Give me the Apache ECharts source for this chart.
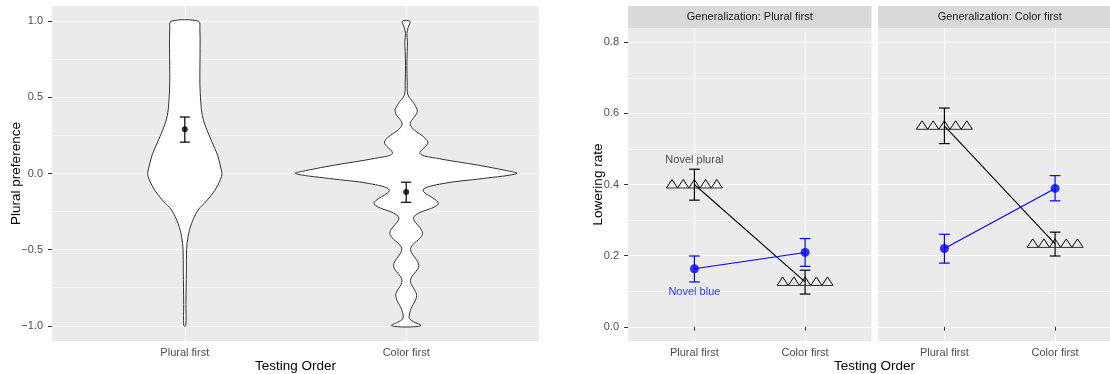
<!DOCTYPE html>
<html>
<head>
<meta charset="utf-8">
<script src="https://cdn.jsdelivr.net/npm/echarts@6/dist/echarts.min.js"></script>
<style>
html,body{margin:0;padding:0;background:#fff}
#main{width:1110px;height:374px}
</style>
</head>
<body>
<div id="main"></div>
<script>
var testingOrder = ['Plural first', 'Color first'];

// left panel, violin outlines: y value and half width (category units)
var pluralViolinY    = [1.0, 0.95, 0.82, 0.60, 0.47, 0.38, 0.30, 0.21, 0.12, 0.03, 0.0, -0.04, -0.11, -0.18, -0.24, -0.33, -0.42, -0.50, -0.64, -0.86, -1.0];
var pluralViolinHalf = [0.062, 0.068, 0.069, 0.068, 0.072, 0.079, 0.096, 0.122, 0.148, 0.164, 0.168, 0.161, 0.136, 0.098, 0.060, 0.030, 0.014, 0.008, 0.007, 0.005, 0.0045];
var colorViolinY     = [1.0, 0.955, 0.92, 0.867, 0.80, 0.71, 0.60, 0.516, 0.46, 0.406, 0.318, 0.208, 0.132, 0.099, 0.055, 0.022, 0.0, -0.033, -0.066, -0.11, -0.198, -0.286, -0.395, -0.494, -0.604, -0.703, -0.80, -0.90, -0.955, -1.0];
var colorViolinHalf  = [0.017, 0.008, 0.003, 0.006, 0.0045, 0.003, 0.0045, 0.008, 0.035, 0.050, 0.019, 0.098, 0.062, 0.143, 0.324, 0.443, 0.500, 0.347, 0.166, 0.076, 0.145, 0.034, 0.074, 0.020, 0.057, 0.019, 0.047, 0.019, 0.016, 0.066];

// left panel, mean and error bar
var prefMean = [0.29, -0.121];
var prefLow  = [0.206, -0.189];
var prefHigh = [0.371, -0.057];

// right panels (one row per facet)
var facetNames = ['Generalization: Plural first', 'Generalization: Color first'];
var pluralRate = [[0.400, 0.126], [0.565, 0.233]];
var pluralLow  = [[0.356, 0.092], [0.515, 0.199]];
var pluralHigh = [[0.443, 0.159], [0.615, 0.266]];
var blueRate   = [[0.163, 0.209], [0.220, 0.389]];
var blueLow    = [[0.126, 0.170], [0.179, 0.354]];
var blueHigh   = [[0.199, 0.248], [0.260, 0.425]];
var noteText = ['Novel plural', 'Novel blue'];
var noteY    = [0.47, 0.098];

var prefMajor = [-1, -0.5, 0, 0.5, 1];
var prefMinor = [-0.75, -0.25, 0.25, 0.75];
var rateMajor = [0, 0.2, 0.4, 0.6, 0.8];
var rateMinor = [0.1, 0.3, 0.5, 0.7];

var font = 'Liberation Sans, Arial, sans-serif';

function numLabel(v) {
	return v.toFixed(1).replace('-', '\u2212');
}

function xAxisFor(g) {
	return {
		type: 'value', gridIndex: g, min: 0.4, max: 2.6,
		axisLine: {show: false},
		axisTick: {customValues: [1, 2], length: 4, lineStyle: {color: '#333', width: 1}},
		axisLabel: {customValues: [1, 2], margin: 6, color: '#4D4D4D', fontSize: 11, fontFamily: font,
			formatter: function (v) { return testingOrder[Math.round(v) - 1]; }},
		splitLine: {show: true, lineStyle: {color: '#fff', width: 1.1}}
	};
}

function yAxisPair(g, min, max, major, minor, showLabels) {
	return [{
		type: 'value', gridIndex: g, min: min, max: max,
		axisLine: {show: false},
		axisTick: {show: showLabels, customValues: major, length: 4, lineStyle: {color: '#333', width: 1}},
		axisLabel: {show: showLabels, customValues: major, margin: 9, color: '#4D4D4D', fontSize: 11, fontFamily: font, formatter: numLabel},
		splitLine: {show: true, lineStyle: {color: '#fff', width: 1.1}}
	}, {
		type: 'value', gridIndex: g, min: min, max: max,
		axisLine: {show: false},
		axisTick: {show: false, customValues: minor},
		axisLabel: {show: false},
		splitLine: {show: true, lineStyle: {color: '#fff', width: 0.55}}
	}];
}

function errorBarItem(capHalf, color, width) {
	return function (params, api) {
		var x = api.value(0), lo = api.value(1), hi = api.value(2);
		var top = api.coord([x, hi]), bot = api.coord([x, lo]);
		var l = api.coord([x - capHalf, hi])[0], r = api.coord([x + capHalf, hi])[0];
		var st = {stroke: color, lineWidth: width};
		return {type: 'group', children: [
			{type: 'line', shape: {x1: top[0], y1: top[1], x2: bot[0], y2: bot[1]}, style: st},
			{type: 'line', shape: {x1: l, y1: top[1], x2: r, y2: top[1]}, style: st},
			{type: 'line', shape: {x1: l, y1: bot[1], x2: r, y2: bot[1]}, style: st}
		]};
	};
}

// row of five open triangles on a base line, centred on the point
function trianglesItem(params, api) {
	var p = api.coord([api.value(0), api.value(1)]);
	var w = 11.2, base = p[1] + 3.5, apex = p[1] - 5, x0 = p[0] - 2.5 * w;
	var kids = [];
	for (var t = 0; t < 5; t++) {
		var a = x0 + t * w;
		kids.push({type: 'polyline', shape: {points: [[a, base], [a + w / 2, apex], [a + w, base]]},
			style: {stroke: '#000', fill: null, lineWidth: 1}});
	}
	kids.push({type: 'line', shape: {x1: x0, y1: base, x2: x0 + 5 * w, y2: base},
		style: {stroke: '#333', lineWidth: 1}});
	return {type: 'group', children: kids};
}

var violins = [[pluralViolinY, pluralViolinHalf], [colorViolinY, colorViolinHalf]];

var series = [];

series.push({
	type: 'custom', xAxisIndex: 0, yAxisIndex: 0, silent: true,
	data: [[1, 0], [2, 0]],
	encode: {x: 0, y: 1},
	renderItem: function (params, api) {
		var c = api.value(0);
		var ys = violins[params.dataIndex][0], hw = violins[params.dataIndex][1];
		var pts = [];
		for (var i = 0; i < ys.length; i++) pts.push(api.coord([c - hw[i], ys[i]]));
		for (var j = ys.length - 1; j >= 0; j--) pts.push(api.coord([c + hw[j], ys[j]]));
		return {type: 'polygon', shape: {points: pts, smooth: 0.35},
			style: {fill: '#fff', stroke: '#333', lineWidth: 1}};
	}
});

var prefBars = [];
var prefPts = [];
for (var i = 0; i < 2; i++) {
	prefBars.push([i + 1, prefLow[i], prefHigh[i]]);
	prefPts.push([i + 1, prefMean[i]]);
}
series.push({
	type: 'custom', xAxisIndex: 0, yAxisIndex: 0, silent: true,
	data: prefBars, encode: {x: 0, y: [1, 2]},
	renderItem: errorBarItem(0.023, '#000', 1.2)
});
series.push({
	type: 'scatter', xAxisIndex: 0, yAxisIndex: 0, silent: true,
	data: prefPts, symbol: 'circle', symbolSize: 6,
	itemStyle: {color: '#000'}
});

for (var f = 0; f < 2; f++) {
	var xi = f + 1, yi = 2 + f * 2;
	var pLine = [], bLine = [], pBars = [], bBars = [];
	for (var k = 0; k < 2; k++) {
		pLine.push([k + 1, pluralRate[f][k]]);
		bLine.push([k + 1, blueRate[f][k]]);
		pBars.push([k + 1, pluralLow[f][k], pluralHigh[f][k]]);
		bBars.push([k + 1, blueLow[f][k], blueHigh[f][k]]);
	}
	series.push({
		type: 'line', xAxisIndex: xi, yAxisIndex: yi, silent: true,
		data: pLine, symbol: 'none', lineStyle: {color: '#000', width: 1.1}
	});
	series.push({
		type: 'line', xAxisIndex: xi, yAxisIndex: yi, silent: true,
		data: bLine, symbol: 'none', lineStyle: {color: '#0000FF', width: 1.1}
	});
	series.push({
		type: 'custom', xAxisIndex: xi, yAxisIndex: yi, silent: true,
		data: pBars, encode: {x: 0, y: [1, 2]},
		renderItem: errorBarItem(0.048, '#000', 1.2)
	});
	series.push({
		type: 'custom', xAxisIndex: xi, yAxisIndex: yi, silent: true,
		data: bBars, encode: {x: 0, y: [1, 2]},
		renderItem: errorBarItem(0.048, '#0000FF', 1.2)
	});
	series.push({
		type: 'scatter', xAxisIndex: xi, yAxisIndex: yi, silent: true,
		data: bLine, symbol: 'circle', symbolSize: 9,
		itemStyle: {color: '#0000FF'}
	});
	series.push({
		type: 'custom', xAxisIndex: xi, yAxisIndex: yi, silent: true,
		data: pLine, encode: {x: 0, y: 1},
		renderItem: trianglesItem
	});
	if (f === 0) {
		series.push({
			type: 'scatter', xAxisIndex: xi, yAxisIndex: yi, silent: true,
			data: [[1, noteY[0]], [1, noteY[1]]], symbolSize: 1,
			itemStyle: {color: 'rgba(0,0,0,0)'},
			label: {show: true, position: 'inside',
				formatter: function (p) { return p.dataIndex === 0 ? '{k|' + noteText[0] + '}' : '{b|' + noteText[1] + '}'; },
				rich: {k: {color: '#1A1A1A', fontSize: 11, fontFamily: font},
					b: {color: '#0000FF', fontSize: 11, fontFamily: font}}},
			labelLayout: {hideOverlap: false}
		});
	}
}

var yAxes = [].concat(
	yAxisPair(0, -1.1, 1.1, prefMajor, prefMinor, true),
	yAxisPair(1, -0.04, 0.84, rateMajor, rateMinor, true),
	yAxisPair(2, -0.04, 0.84, rateMajor, rateMinor, false)
);
yAxes[0].name = 'Plural preference';
yAxes[2].name = 'Lowering rate';
[0, 2].forEach(function (i) {
	yAxes[i].nameLocation = 'middle';
	yAxes[i].nameRotate = 90;
	yAxes[i].nameMoveOverlap = false;
	yAxes[i].nameTextStyle = {color: '#000', fontSize: 13.5, fontFamily: font};
});
yAxes[0].nameGap = 29;
yAxes[2].nameGap = 23;

var xAxes = [xAxisFor(0), xAxisFor(1), xAxisFor(2)];
xAxes[0].name = 'Testing Order';
xAxes[0].nameLocation = 'middle';
xAxes[0].nameGap = 18;
xAxes[0].nameMoveOverlap = false;
xAxes[0].nameTextStyle = {color: '#000', fontSize: 13.5, fontFamily: font};

var gridStyle = {show: true, backgroundColor: '#EBEBEB', borderWidth: 0, containLabel: false, outerBoundsMode: 'none'};
var grids = [
	Object.assign({left: 52, top: 6, width: 487, height: 335}, gridStyle),
	Object.assign({left: 628, top: 28, width: 243.5, height: 313}, gridStyle),
	Object.assign({left: 878, top: 28, width: 243.5, height: 313}, gridStyle)
];

var graphics = [];
[628, 878].forEach(function (x0, idx) {
	graphics.push({type: 'rect', left: x0, top: 6, silent: true,
		shape: {width: 243.5, height: 22}, style: {fill: '#D9D9D9'}});
	graphics.push({type: 'text', x: x0 + 121.75, y: 17, silent: true,
		style: {text: facetNames[idx], fill: '#1A1A1A', font: '11px ' + font, align: 'center', verticalAlign: 'middle'}});
});
graphics.push({type: 'text', x: 874.5, y: 366, silent: true,
	style: {text: 'Testing Order', fill: '#000', font: '13.5px ' + font, align: 'center', verticalAlign: 'middle'}});

var myChart = echarts.init(document.getElementById('main'));
var option = {
	animation: false,
	backgroundColor: '#fff',
	grid: grids,
	xAxis: xAxes,
	yAxis: yAxes,
	graphic: graphics,
	series: series
};
myChart.setOption(option);
</script>
</body>
</html>
